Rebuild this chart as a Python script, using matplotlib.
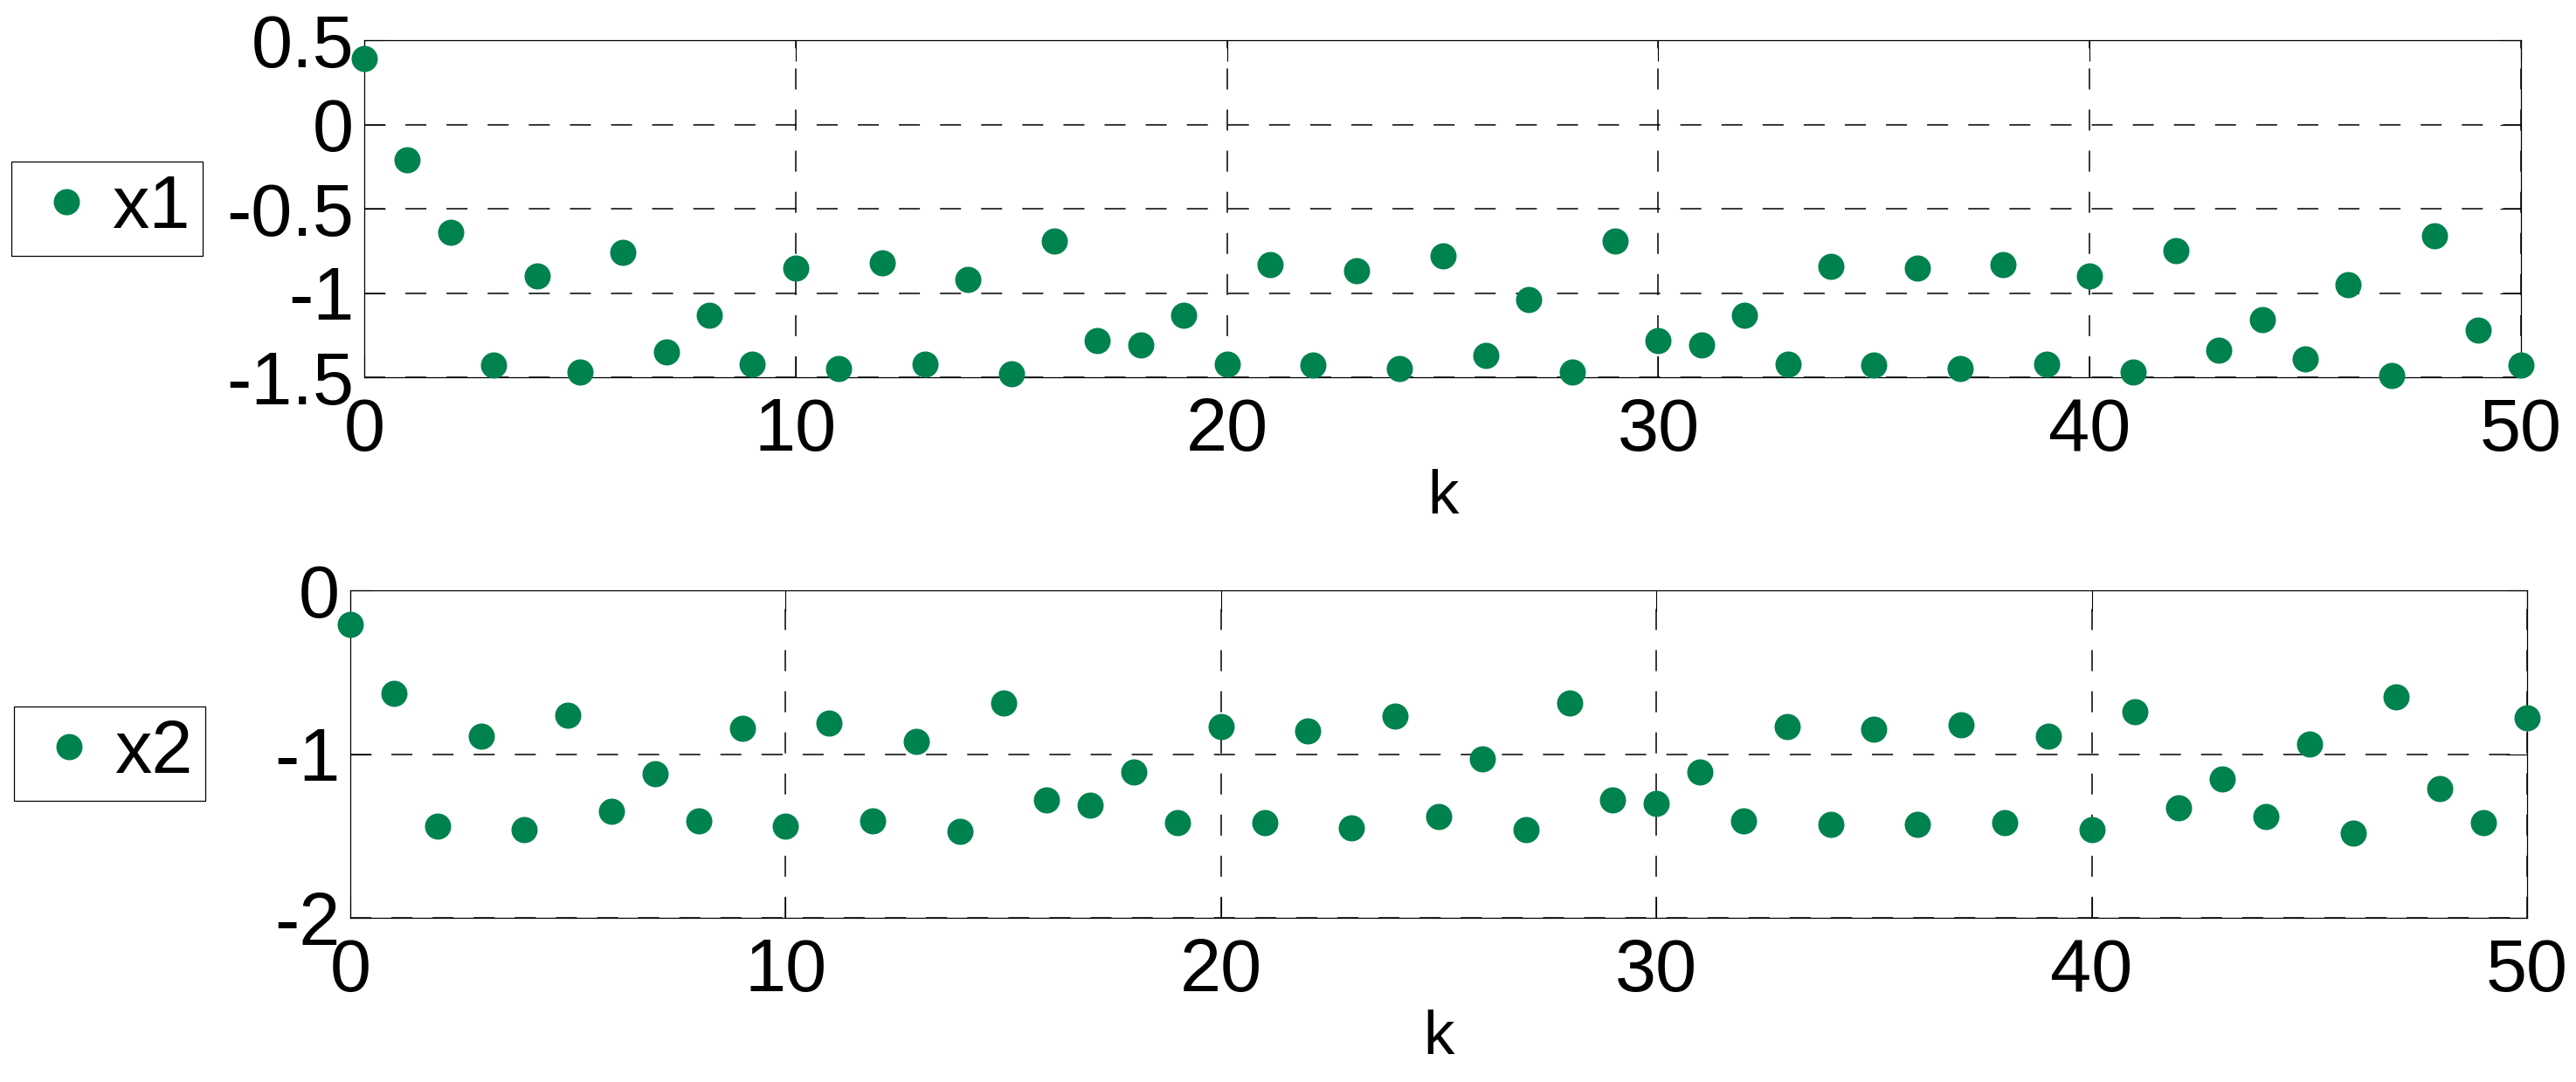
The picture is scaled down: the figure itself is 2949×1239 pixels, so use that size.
import numpy as np
import matplotlib
matplotlib.use('Agg')
import matplotlib.pyplot as plt

plt.rcParams['font.family'] = ['Liberation Sans', 'DejaVu Sans']
plt.rcParams['lines.scale_dashes'] = False

k = np.arange(0, 51)

x1 = [0.39, -0.21, -0.64, -1.43, -0.90, -1.47, -0.76, -1.35, -1.13, -1.42,
      -0.85, -1.45, -0.82, -1.42, -0.92, -1.48, -0.69, -1.28, -1.31, -1.13,
      -1.42, -0.83, -1.43, -0.87, -1.45, -0.78, -1.37, -1.04, -1.47, -0.69,
      -1.28, -1.31, -1.13, -1.42, -0.84, -1.43, -0.85, -1.45, -0.83, -1.42,
      -0.90, -1.47, -0.75, -1.34, -1.16, -1.39, -0.95, -1.49, -0.66, -1.22,
      -1.43]

x2 = [-0.21, -0.63, -1.44, -0.89, -1.46, -0.76, -1.35, -1.12, -1.41, -0.84,
      -1.44, -0.81, -1.41, -0.92, -1.47, -0.69, -1.28, -1.31, -1.11, -1.42,
      -0.83, -1.42, -0.86, -1.45, -0.77, -1.38, -1.03, -1.46, -0.69, -1.28,
      -1.30, -1.11, -1.41, -0.83, -1.43, -0.85, -1.43, -0.82, -1.42, -0.89,
      -1.46, -0.74, -1.33, -1.15, -1.38, -0.94, -1.48, -0.65, -1.21, -1.42,
      -0.78]

x_ticks = [0, 10, 20, 30, 40, 50]
y1_ticks = [-1.5, -1, -0.5, 0, 0.5]
y1_labels = ['-1.5', '-1', '-0.5', '0', '0.5']
y2_ticks = [-2, -1, 0]
y2_labels = ['-2', '-1', '0']

green = '#00824F'
W, H = 2949, 1239
fig = plt.figure(figsize=(W / 100, H / 100), dpi=100)

# axes rectangles in pixels: left, top, right, bottom
ax1 = fig.add_axes([417 / W, 1 - 432 / H, (2886 - 417) / W, (432 - 46) / H])
ax2 = fig.add_axes([401 / W, 1 - 1051 / H, (2893 - 401) / W, (1051 - 676) / H])

dash = (0, (17.3, 16.6))


def style(ax, data, label, yticks, ylabels, ylim, leg_xy):
    ax.plot(k, data, 'o', color=green, markersize=21.6, markeredgewidth=0,
            clip_on=False, label=label, zorder=3)
    ax.set_xlim(0, 50)
    ax.set_ylim(*ylim)
    ax.set_xticks(x_ticks)
    ax.set_yticks(yticks)
    ax.set_yticklabels(ylabels)
    ax.tick_params(direction='in', length=17.5, width=0.8, top=True,
                   right=True, labelsize=61)
    ax.tick_params(axis='x', pad=16)
    ax.tick_params(axis='y', pad=8.5)
    ax.grid(True, color='black', linestyle=dash, linewidth=1.1)
    for s in ax.spines.values():
        s.set_linewidth(0.9)
    ax.set_xlabel('k', fontsize=51, labelpad=2)
    leg = ax.legend(loc='center right', bbox_to_anchor=leg_xy,
                    bbox_transform=fig.transFigure, fontsize=61, numpoints=1,
                    fancybox=False, framealpha=1, edgecolor='black',
                    borderpad=0.17, handlelength=1.14, handletextpad=0.05,
                    borderaxespad=0)
    leg.get_frame().set_linewidth(0.9)


style(ax1, x1, 'x1', y1_ticks, y1_labels, (-1.5, 0.5), (232 / W, 1 - 239 / H))
style(ax2, x2, 'x2', y2_ticks, y2_labels, (-2, 0), (235 / W, 1 - 863 / H))

fig.savefig('out.png', dpi=100)
